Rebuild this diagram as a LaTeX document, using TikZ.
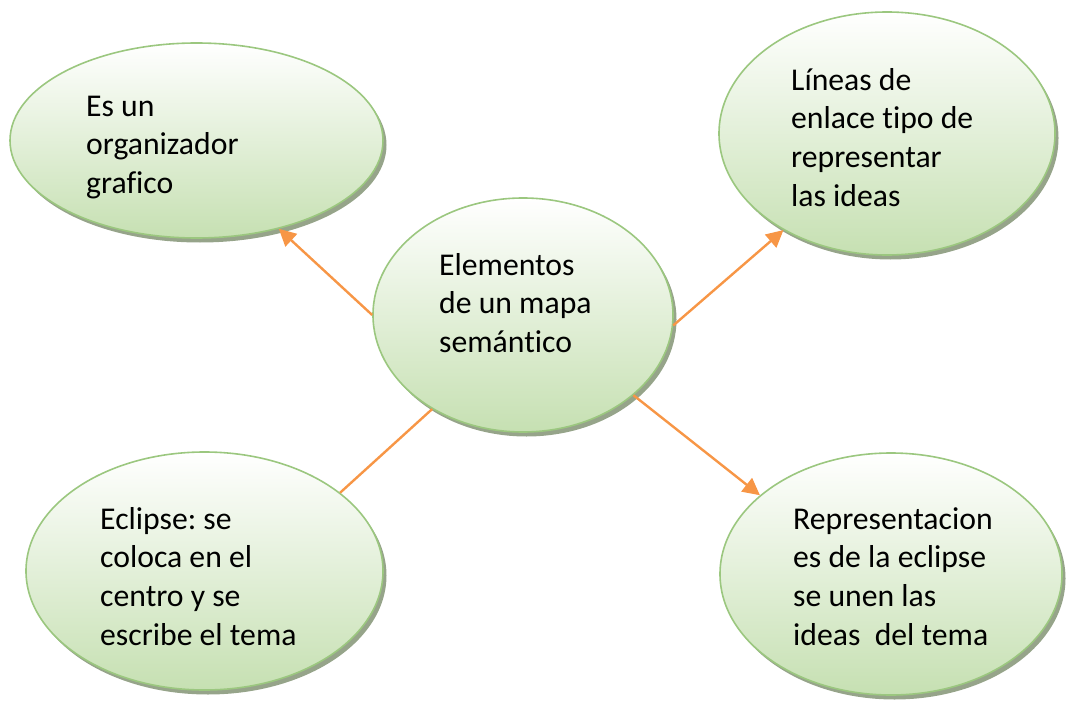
\documentclass[tikz,border=0pt]{standalone}
\usepackage{fontspec}
\setmainfont[Ligatures=NoCommon]{Carlito}
\usetikzlibrary{shapes.geometric,arrows.meta}
\definecolor{ebord}{RGB}{155,199,127}
\definecolor{efill}{RGB}{198,224,178}
\definecolor{eshad}{RGB}{150,164,138}
\definecolor{conn}{RGB}{247,150,70}
\tikzset{
  bubble/.style={ellipse, inner sep=0pt, draw=ebord, line width=1.6pt,
    top color=white, bottom color=efill},
  bshadow/.style={ellipse, inner sep=0pt, fill=eshad, draw=none},
  btext/.style={anchor=base west, inner sep=0pt,
    font=\fontsize{31.7}{38.7}\selectfont\frenchspacing},
  link/.style={draw=conn, line width=2.4pt},
  arrowlink/.style={link, -{Triangle[length=17pt,width=17pt]}}
}
\newcommand{\bub}[5]{%
  \node[bshadow, minimum width=#3pt, minimum height=#4pt] (#5s) at ([shift={(3.5,4.5)}]#1,#2) {};
  \node[bubble, minimum width=#3pt, minimum height=#4pt] (#5) at (#1,#2) {};
}
\begin{document}
\begin{tikzpicture}[x=1pt,y=-1pt]
\useasboundingbox (0,0) rectangle (1066,701);
\bub{196.5}{140.5}{373}{195}{tl}
\bub{887}{133.5}{336}{243}{tr}
\bub{523}{315}{300}{234}{cen}
\bub{204.5}{571}{357}{238}{bl}
\bub{891}{574}{342}{242}{br}
\node[btext] (ttl) at (86,116) {\begin{tabular}[t]{@{}l@{}}Es un\\organizador\\grafico\end{tabular}};
\node[btext] (ttr) at (791,90) {\begin{tabular}[t]{@{}l@{}}Líneas de\\enlace tipo de\\representar\\las ideas\end{tabular}};
\node[btext] (tcen) at (439,275) {\begin{tabular}[t]{@{}l@{}}Elementos\\de un mapa\\semántico\end{tabular}};
\node[btext] (tbl) at (100,529) {\begin{tabular}[t]{@{}l@{}}Eclipse: se\\coloca en el\\centro y se\\escribe el tema\end{tabular}};
\node[btext] (tbr) at (793,529) {\begin{tabular}[t]{@{}l@{}}Representacion\\es de la eclipse\\se unen las\\ideas\ \ del tema\end{tabular}};
\draw[arrowlink] (cen.180) -- (tl.-47.8);
\draw[arrowlink] (cen.-4) -- (tr.-137.6);
\draw[arrowlink] (cen.-36) -- (br.149);
\draw[link] (bl.30) -- (cen.-134);
\end{tikzpicture}
\end{document}
